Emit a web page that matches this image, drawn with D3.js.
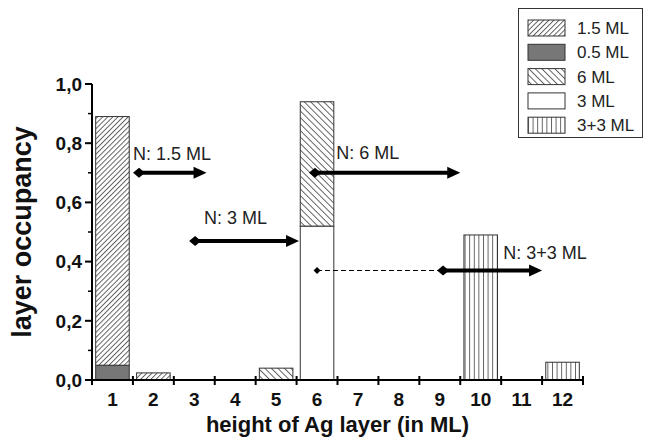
<!DOCTYPE html>
<html lang="en">
<head>
<meta charset="utf-8">
<title>layer occupancy</title>
<script src="https://d3js.org/d3.v7.min.js"></script>
<style>
  body { margin: 0; background: white; }
  text { font-family: "Liberation Sans", Arial, sans-serif; fill: #111; }
</style>
</head>
<body>
<div id="chart_data"></div>
<script>
    // categories on the x axis (height of Ag layer, in ML)
    var categories = [1, 2, 3, 4, 5, 6, 7, 8, 9, 10, 11, 12];

    // series values, one per category (stacked)
    var seriesKeys = ["0.5 ML", "3 ML", "1.5 ML", "6 ML", "3+3 ML"];
    var s05  = [0.05, 0, 0, 0, 0, 0, 0, 0, 0, 0, 0, 0];
    var s3   = [0, 0, 0, 0, 0, 0.52, 0, 0, 0, 0, 0, 0];
    var s15  = [0.84, 0.024, 0, 0, 0, 0, 0, 0, 0, 0, 0, 0];
    var s6   = [0, 0, 0, 0, 0.04, 0.42, 0, 0, 0, 0, 0, 0];
    var s33  = [0, 0, 0, 0, 0, 0, 0, 0, 0, 0.49, 0, 0.06];

    var legendOrder = ["1.5 ML", "0.5 ML", "6 ML", "3 ML", "3+3 ML"];

    var yTicks = [0, 0.2, 0.4, 0.6, 0.8, 1.0];
    var yTickLabels = ["0,0", "0,2", "0,4", "0,6", "0,8", "1,0"];

    // arrows (x in category units, y in occupancy)
    var arrowLabels = ["N: 1.5 ML", "N: 3 ML", "N: 6 ML", "N: 3+3 ML"];
    var arrowStart  = [1.65, 3.02, 5.95, 9.08];
    var arrowEnd    = [3.3, 5.56, 9.5, 11.5];
    var arrowLevel  = [0.70, 0.47, 0.70, 0.37];
    var labelX      = [1.5, 3.24, 6.47, 10.55];
    var labelY      = [0.743, 0.527, 0.747, 0.409];
    var dashedFrom  = [null, null, null, 6.0];

    var W = 645, H = 438;
    var plotL = 92, plotR = 583, plotT = 84, plotB = 380;

    var svg = d3.select("#chart_data")
      .append("svg")
        .attr("width", W)
        .attr("height", H);

    // hatch patterns
    var defs = svg.append("defs");
    function hatch(id, spacing, angle) {
      var p = defs.append("pattern")
          .attr("id", id)
          .attr("patternUnits", "userSpaceOnUse")
          .attr("width", spacing)
          .attr("height", spacing)
          .attr("patternTransform", "rotate(" + angle + ")");
      p.append("rect").attr("width", spacing).attr("height", spacing).attr("fill", "white");
      p.append("line")
          .attr("x1", 0.5).attr("y1", 0).attr("x2", 0.5).attr("y2", spacing)
          .attr("stroke", "#555").attr("stroke-width", 0.9);
    }
    hatch("pat15", 3.6, 45);
    hatch("pat6", 4.6, -45);
    hatch("pat33", 4.6, 0);

    var fills = {
      "1.5 ML": "url(#pat15)",
      "0.5 ML": "#777",
      "6 ML": "url(#pat6)",
      "3 ML": "white",
      "3+3 ML": "url(#pat33)"
    };

    var table = categories.map(function(c, i) {
      return { cat: c, "0.5 ML": s05[i], "3 ML": s3[i], "1.5 ML": s15[i], "6 ML": s6[i], "3+3 ML": s33[i] };
    });
    var stacked = d3.stack().keys(seriesKeys)(table);

    var x = d3.scaleBand()
      .domain(categories)
      .range([plotL, plotR])
      .paddingInner(0.18)
      .paddingOuter(0.09);
    var xv = d3.scaleLinear().domain([0.5, 12.5]).range([plotL, plotR]);
    var y = d3.scaleLinear().domain([0, 1]).range([plotB, plotT]);

    // bars
    svg.append("g").selectAll("g")
      .data(stacked)
      .join("g")
        .attr("fill", function(d) { return fills[d.key]; })
      .selectAll("rect")
      .data(function(d) { return d.filter(function(v) { return v[1] - v[0] > 0; }); })
      .join("rect")
        .attr("x", function(d) { return x(d.data.cat); })
        .attr("width", x.bandwidth())
        .attr("y", function(d) { return y(d[1]); })
        .attr("height", function(d) { return y(d[0]) - y(d[1]); })
        .attr("stroke", "#333")
        .attr("stroke-width", 1);

    // y axis
    var yAxis = svg.append("g");
    yAxis.append("line")
      .attr("x1", plotL).attr("x2", plotL)
      .attr("y1", y(1)).attr("y2", plotB)
      .attr("stroke", "black").attr("stroke-width", 2);
    yAxis.selectAll(".major")
      .data(yTicks)
      .join("line")
        .attr("class", "major")
        .attr("x1", plotL - 7).attr("x2", plotL)
        .attr("y1", function(d) { return y(d); })
        .attr("y2", function(d) { return y(d); })
        .attr("stroke", "black").attr("stroke-width", 2);
    yAxis.selectAll(".minor")
      .data(d3.range(0.1, 1, 0.2))
      .join("line")
        .attr("class", "minor")
        .attr("x1", plotL - 4).attr("x2", plotL)
        .attr("y1", function(d) { return y(d); })
        .attr("y2", function(d) { return y(d); })
        .attr("stroke", "black").attr("stroke-width", 1.5);
    yAxis.selectAll("text")
      .data(yTicks)
      .join("text")
        .attr("x", plotL - 10)
        .attr("y", function(d) { return y(d); })
        .attr("dy", "0.36em")
        .attr("text-anchor", "end")
        .style("font-size", "19px")
        .style("font-weight", "bold")
        .text(function(d, i) { return yTickLabels[i]; });

    // x axis
    var xAxis = svg.append("g");
    xAxis.append("line")
      .attr("x1", plotL - 1).attr("x2", plotR + 1)
      .attr("y1", plotB).attr("y2", plotB)
      .attr("stroke", "black").attr("stroke-width", 2);
    xAxis.selectAll(".tick")
      .data(d3.range(0, 13))
      .join("line")
        .attr("class", "tick")
        .attr("x1", function(d) { return xv(d + 0.5); })
        .attr("x2", function(d) { return xv(d + 0.5); })
        .attr("y1", plotB - 4).attr("y2", plotB + 5)
        .attr("stroke", "black").attr("stroke-width", 2);
    xAxis.selectAll("text")
      .data(categories)
      .join("text")
        .attr("x", function(d) { return x(d) + x.bandwidth() / 2; })
        .attr("y", plotB + 26)
        .attr("text-anchor", "middle")
        .style("font-size", "19px")
        .style("font-weight", "bold")
        .text(function(d) { return d; });

    // axis titles
    svg.append("text")
      .attr("x", (plotL + plotR) / 2)
      .attr("y", 432)
      .attr("text-anchor", "middle")
      .style("font-size", "22px")
      .style("font-weight", "bold")
      .text("height of Ag layer (in ML)");
    svg.append("text")
      .attr("transform", "translate(31," + ((plotT + plotB) / 2) + ") rotate(-90)")
      .attr("text-anchor", "middle")
      .style("font-size", "27px")
      .style("font-weight", "bold")
      .text("layer occupancy");

    // arrows
    var ann = svg.append("g");
    arrowLabels.forEach(function(lab, i) {
      var x0 = xv(arrowStart[i]), x1 = xv(arrowEnd[i]), yy = y(arrowLevel[i]);
      if (dashedFrom[i] != null) {
        var xd = xv(dashedFrom[i]);
        ann.append("line")
          .attr("x1", xd).attr("x2", x0)
          .attr("y1", yy).attr("y2", yy)
          .attr("stroke", "black").attr("stroke-width", 1.2)
          .attr("stroke-dasharray", "5,3");
        ann.append("path")
          .attr("d", "M" + (xd - 3.5) + "," + yy + "L" + xd + "," + (yy - 3.5) +
                     "L" + (xd + 3.5) + "," + yy + "L" + xd + "," + (yy + 3.5) + "Z")
          .attr("fill", "black");
      }
      ann.append("line")
        .attr("x1", x0).attr("x2", x1 - 10)
        .attr("y1", yy).attr("y2", yy)
        .attr("stroke", "black").attr("stroke-width", 4);
      ann.append("path")
        .attr("d", "M" + (x0 - 6) + "," + yy + "L" + x0 + "," + (yy - 5) +
                   "L" + (x0 + 6) + "," + yy + "L" + x0 + "," + (yy + 5) + "Z")
        .attr("fill", "black");
      ann.append("path")
        .attr("d", "M" + x1 + "," + yy + "L" + (x1 - 13) + "," + (yy - 6) +
                   "L" + (x1 - 13) + "," + (yy + 6) + "Z")
        .attr("fill", "black");
      ann.append("text")
        .attr("x", xv(labelX[i]))
        .attr("y", y(labelY[i]))
        .style("font-size", "18px")
        .style("fill", "#222")
        .text(lab);
    });

    // legend
    var lg = svg.append("g");
    lg.append("rect")
      .attr("x", 518.5).attr("y", 8.5)
      .attr("width", 124).attr("height", 129)
      .attr("fill", "white")
      .attr("stroke", "#333").attr("stroke-width", 1);
    var rows = lg.selectAll(".row")
      .data(legendOrder)
      .join("g")
        .attr("class", "row")
        .attr("transform", function(d, i) { return "translate(528," + (20 + i * 24.3) + ")"; });
    rows.append("rect")
      .attr("width", 37).attr("height", 16)
      .attr("fill", function(d) { return fills[d]; })
      .attr("stroke", "#333").attr("stroke-width", 1);
    rows.append("text")
      .attr("x", 49).attr("y", 8)
      .attr("dy", "0.36em")
      .style("font-size", "17px")
      .style("fill", "#222")
      .text(function(d) { return d; });
</script>
</body>
</html>
